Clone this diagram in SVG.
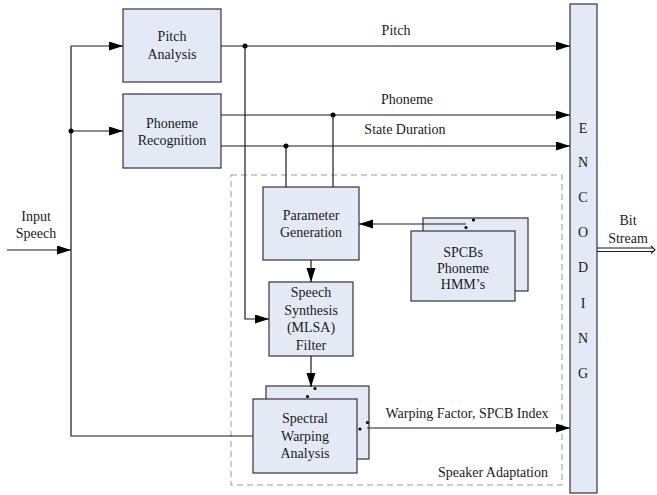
<svg xmlns="http://www.w3.org/2000/svg" width="657" height="495" viewBox="0 0 657 495">
<defs>
<marker id="ah" markerUnits="userSpaceOnUse" markerWidth="14" markerHeight="10" refX="14" refY="4.5" orient="auto">
<path d="M0,0 L14,4.5 L0,9 z" fill="#000"/>
</marker>
<style>
.box{fill:#E4EAF5;stroke:#333;stroke-width:1.2}
.t{font-family:"Liberation Serif","Times New Roman",serif;font-size:14px;fill:#1a1a1a;text-anchor:middle}
.c{fill:none;stroke:#1a1a1a;stroke-width:1.2}
.dash{fill:none;stroke:#999;stroke-width:1;stroke-dasharray:6,4}
.dot{fill:#000}
</style>
</defs>
<rect width="657" height="495" fill="#fff"/>

<rect id="speaker-adaptation" class="dash" x="231" y="175" width="331" height="310"/>
<text class="t" x="493" y="477">Speaker Adaptation</text>

<g id="pitch-analysis">
<rect class="box" x="123" y="9" width="98" height="73"/>
<text class="t" x="172" y="41">Pitch</text>
<text class="t" x="172" y="59">Analysis</text>
</g>
<g id="phoneme-recognition">
<rect class="box" x="123" y="94" width="98" height="74"/>
<text class="t" x="172" y="128">Phoneme</text>
<text class="t" x="172" y="145">Recognition</text>
</g>
<g id="parameter-generation">
<rect class="box" x="263" y="187" width="96" height="73"/>
<text class="t" x="311" y="220">Parameter</text>
<text class="t" x="311" y="237">Generation</text>
</g>
<g id="speech-synthesis">
<rect class="box" x="269" y="282" width="84" height="74"/>
<text class="t" x="311" y="297">Speech</text>
<text class="t" x="311" y="315">Synthesis</text>
<text class="t" x="311" y="332">(MLSA)</text>
<text class="t" x="311" y="350">Filter</text>
</g>
<g id="spcbs">
<rect class="box" x="423" y="218" width="105" height="73"/>
<rect class="box" x="411" y="231" width="104" height="70"/>
<text class="t" x="463" y="257">SPCBs</text>
<text class="t" x="463" y="273">Phoneme</text>
<text class="t" x="463" y="289">HMM’s</text>
</g>
<g id="spectral-warping">
<rect class="box" x="266" y="386" width="103" height="73"/>
<rect class="box" x="253" y="399" width="104" height="74"/>
<text class="t" x="305" y="423">Spectral</text>
<text class="t" x="305" y="441">Warping</text>
<text class="t" x="305" y="458">Analysis</text>
</g>
<g id="encoding">
<rect class="box" x="570" y="4" width="27" height="489"/>
<text class="t" x="583" y="133">E</text>
<text class="t" x="583" y="167">N</text>
<text class="t" x="583" y="202">C</text>
<text class="t" x="583" y="237">O</text>
<text class="t" x="583" y="272">D</text>
<text class="t" x="583" y="308">I</text>
<text class="t" x="583" y="343">N</text>
<text class="t" x="583" y="378">G</text>
</g>

<g id="connectors">
<path class="c" d="M7,250 H71" marker-end="url(#ah)"/>
<path class="c" d="M71,46 V436 H253"/>
<path class="c" d="M71,46 H123" marker-end="url(#ah)"/>
<path class="c" d="M71,131 H123" marker-end="url(#ah)"/>
<circle class="dot" cx="71" cy="131" r="2.5"/>
<path class="c" d="M221,46 H570" marker-end="url(#ah)"/>
<circle class="dot" cx="245" cy="46" r="2.5"/>
<path class="c" d="M245,46 V319 H269" marker-end="url(#ah)"/>
<path class="c" d="M221,115 H570" marker-end="url(#ah)"/>
<circle class="dot" cx="333" cy="115" r="2.5"/>
<path class="c" d="M333,115 V187"/>
<path class="c" d="M221,146 H570" marker-end="url(#ah)"/>
<circle class="dot" cx="286" cy="146" r="2.5"/>
<path class="c" d="M286,146 V187"/>
<path class="c" d="M311,260 V282" marker-end="url(#ah)"/>
<path class="c" d="M311,356 V387" marker-end="url(#ah)"/>
<circle class="dot" cx="307.5" cy="396.5" r="1.6"/>
<circle class="dot" cx="315" cy="388.5" r="1.6"/>
<path class="c" d="M466,224 H359" marker-end="url(#ah)"/>
<circle class="dot" cx="466" cy="227.5" r="1.6"/>
<circle class="dot" cx="473.5" cy="220" r="1.6"/>
<path class="c" d="M367,428 H570" marker-end="url(#ah)"/>
<circle class="dot" cx="360" cy="429" r="1.6"/>
<circle class="dot" cx="367.5" cy="422.5" r="1.6"/>
<path class="c" d="M597,248 H653 M597,251.5 H653"/>
<path fill="none" stroke="#1a1a1a" stroke-width="1.1" d="M651,246 L655,249.7 L651,253.5"/>
</g>

<text class="t" x="396" y="35">Pitch</text>
<text class="t" x="407" y="104">Phoneme</text>
<text class="t" x="405" y="134">State Duration</text>
<text class="t" x="467" y="418">Warping Factor, SPCB Index</text>
<text class="t" x="36" y="221">Input</text>
<text class="t" x="36" y="238">Speech</text>
<text class="t" x="628" y="225">Bit</text>
<text class="t" x="628" y="243">Stream</text>
</svg>
